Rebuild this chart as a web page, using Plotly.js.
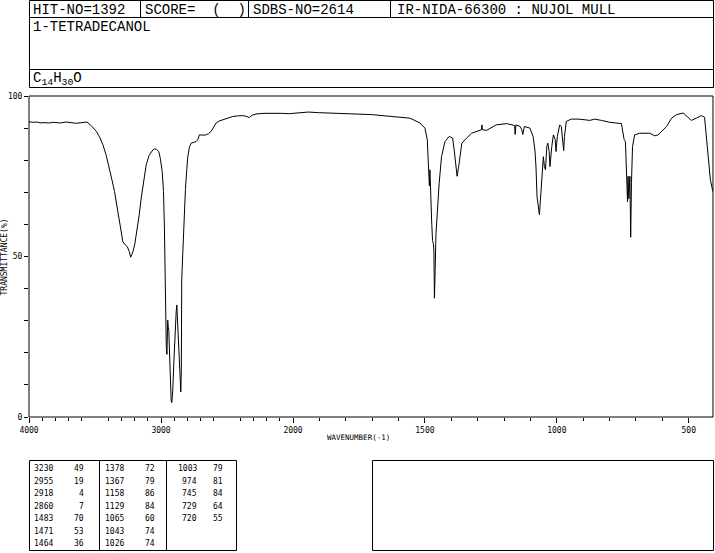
<!DOCTYPE html>
<html>
<head>
<meta charset="utf-8">
<script src="https://cdn.plot.ly/plotly-3.0.1.min.js"></script>
<style>html,body{margin:0;padding:0;background:#fff;}#chart{width:715px;height:553px;}</style>
</head>
<body>
<div id="chart"></div>
<script>
// ---- Spectrum data (wavenumber cm-1, transmittance %) ----
const wavenumber = [
  4000, 3970, 3940, 3910, 3894, 3860, 3843, 3820, 3793, 3760, 3720, 3680, 3641, 3600, 3561,
  3530, 3490, 3465, 3440, 3415, 3390, 3370, 3352, 3335, 3319, 3304, 3289, 3270, 3256, 3240,
  3230, 3222, 3213, 3198, 3183, 3165, 3150, 3130, 3112, 3090, 3074, 3060, 3049, 3035, 3017,
  3005, 2991, 2981, 2974, 2968, 2964, 2960, 2955, 2951, 2949, 2945, 2941, 2937, 2933, 2928,
  2923, 2918, 2911, 2903, 2896, 2890, 2885, 2880, 2876, 2873, 2865, 2858, 2850, 2846, 2845,
  2843, 2835, 2825, 2815, 2805, 2797, 2785, 2772, 2750, 2734, 2720, 2709, 2680, 2658, 2640,
  2620, 2600, 2582, 2560, 2533, 2500, 2457, 2420, 2381, 2350, 2331, 2310, 2280, 2220, 2154,
  2090, 2028, 2000,
  1942, 1900, 1847, 1784, 1700, 1650, 1595, 1557, 1519, 1500, 1491, 1486, 1483, 1481, 1478,
  1474, 1471, 1468, 1466, 1464, 1462, 1458, 1453, 1446, 1437, 1424, 1408, 1395, 1389, 1383,
  1378, 1372, 1367, 1360, 1342, 1323, 1285, 1284, 1282, 1266, 1230, 1190, 1160, 1158, 1155,
  1139, 1133, 1129, 1123, 1102, 1090, 1083, 1079, 1075, 1066, 1062, 1057, 1051, 1047, 1043,
  1038, 1034, 1029, 1026, 1019, 1013, 1006, 1003, 998, 989, 983, 977, 974, 971, 964,
  945, 916, 875, 856, 831, 799, 755, 749, 745, 740, 735, 732, 730, 727, 723,
  720, 717, 713, 705, 686, 648, 629, 616, 584, 565, 546, 521, 502, 490, 471,
  452, 440, 436, 427, 418, 410, 408
];
const transmittance = [
  92.0, 91.8, 91.9, 91.6, 91.7, 91.5, 91.6, 91.8, 91.8, 91.6, 91.9, 91.6, 91.5, 91.7, 91.9,
  90.8, 89.0, 87.2, 84.8, 81.5, 77.5, 73.6, 70.2, 66.0, 61.9, 58.0, 54.6, 53.6, 53.1, 51.5,
  49.8, 50.5, 51.5, 54.0, 57.7, 63.0, 68.2, 74.0, 78.6, 81.5, 82.7, 83.3, 83.5, 83.4, 82.7,
  80.5, 76.5, 70.2, 58.9, 41.0, 28.6, 22.0, 19.5, 26.0, 30.2, 28.0, 27.0, 22.0, 16.1, 6.8,
  5.0, 4.5, 8.3, 16.7, 25.0, 30.0, 32.8, 34.9, 31.0, 29.2, 20.3, 10.4, 7.8, 15.0, 21.8,
  42.7, 51.0, 62.0, 70.8, 77.0, 81.1, 84.0, 85.3, 85.6, 85.8, 86.5, 87.9, 87.8, 87.9, 88.3,
  89.0, 90.4, 91.6, 92.2, 92.6, 93.1, 93.6, 93.8, 93.9, 93.6, 93.3, 94.0, 94.4, 94.6, 94.7,
  94.6, 94.5, 94.6,
  95.0, 94.8, 94.7, 94.4, 94.2, 93.8, 93.4, 93.1, 91.6, 90.0, 86.4, 78.0, 72.0, 77.0, 67.6,
  60.0, 55.0, 54.0, 52.0, 37.0, 42.7, 57.2, 64.5, 72.8, 81.1, 85.8, 87.4, 86.9, 83.2, 78.0,
  75.0, 78.0, 81.1, 85.3, 86.9, 88.4, 89.5, 91.0, 89.5, 89.3, 91.0, 91.4, 90.8, 88.0, 91.0,
  90.5, 89.5, 88.0, 90.5, 90.0, 87.4, 83.2, 78.0, 68.7, 63.0, 67.6, 74.9, 81.1, 78.0, 77.0,
  84.3, 85.3, 82.7, 78.0, 84.3, 87.9, 86.4, 82.7, 87.4, 91.0, 90.5, 84.3, 83.0, 87.4, 92.1,
  92.8, 92.8, 92.4, 92.8, 92.4, 91.8, 91.4, 89.0, 86.5, 85.8, 76.0, 67.0, 75.0, 68.0, 75.0,
  56.0, 73.0, 84.3, 87.9, 88.4, 88.4, 87.6, 87.9, 90.5, 93.1, 94.2, 94.7, 93.1, 92.4, 93.1,
  93.9, 93.4, 89.5, 82.2, 73.9, 70.8, 70.2
];

// ---- Peak table ----
const peakWavenumbers = [3230, 2955, 2918, 2860, 1483, 1471, 1464,
                         1378, 1367, 1158, 1129, 1065, 1043, 1026,
                         1003, 974, 745, 729, 720];
const peakTransmittance = [49, 19, 4, 7, 70, 53, 36,
                           72, 79, 86, 84, 60, 74, 74,
                           79, 81, 84, 64, 55];

// ---- Header texts ----
const hitNo = 'HIT-NO=1392';
const score = 'SCORE=  (  )';
const sdbsNo = 'SDBS-NO=2614';
const irInfo = 'IR-NIDA-66300 : NUJOL MULL';
const compound = '1-TETRADECANOL';
const formula = 'C<sub>14</sub>H<sub>30</sub>O';
const xTitle = 'WAVENUMBER(-1)';
const yTitle = 'TRANSMITTANCE(%)';

// ---- Axis tick labels ----
const yTickVals = [0, 50, 100];
const yTickText = ['0', '50', '100'];
const xHighTickVals = [4000, 3000];
const xHighTickText = ['4000', '3000'];
const xHighLongTicks = [3500, 2500];
const xLowTickVals = [2000, 1500, 1000, 500];
const xLowTickText = ['2000', '1500', '1000', '500'];

// ---- geometry helpers (pixel -> paper) ----
const L = 29, R = 713, T = 96, B = 417;
const px = x => (x - L) / (R - L);
const py = y => (B - y) / (B - T);
const split = (293 - L) / (R - L);

const hiX = [], hiY = [], loX = [], loY = [];
for (let i = 0; i < wavenumber.length; i++) {
  if (wavenumber[i] >= 2000) { hiX.push(wavenumber[i]); hiY.push(transmittance[i]); }
  if (wavenumber[i] <= 2000) { loX.push(wavenumber[i]); loY.push(transmittance[i]); }
}

const lineStyle = {color: '#000', width: 1};
const traces = [
  {x: hiX, y: hiY, xaxis: 'x', yaxis: 'y', type: 'scatter', mode: 'lines', line: lineStyle, hoverinfo: 'skip', showlegend: false},
  {x: loX, y: loY, xaxis: 'x2', yaxis: 'y', type: 'scatter', mode: 'lines', line: lineStyle, hoverinfo: 'skip', showlegend: false}
];

const minorHigh = [], minorLow = [], minorY = [];
for (let v = 3900; v > 2000; v -= 100) if (v % 500 !== 0) minorHigh.push(v);
for (let v = 1900; v >= 408; v -= 100) if (v % 500 !== 0) minorLow.push(v);
for (let v = 10; v < 100; v += 10) if (v !== 50) minorY.push(v);

const tickFont = {family: 'DejaVu Sans Mono', size: 8, color: '#000'};
const axisCommon = {
  showgrid: false, zeroline: false, showline: false,
  ticks: 'outside', ticklen: 5, tickwidth: 1, tickcolor: '#000',
  tickfont: tickFont, tickmode: 'array', fixedrange: true
};
const minorStyle = (vals, len) => ({tickmode: 'array', tickvals: vals, ticks: 'outside', ticklen: len, tickcolor: '#000', tickwidth: 1, showgrid: false});

const shapes = [];
const line = (x0, y0, x1, y1) => shapes.push({type: 'line', xref: 'paper', yref: 'paper',
  x0: px(x0), y0: py(y0), x1: px(x1), y1: py(y1), line: {color: '#000', width: 1}});
const rect = (x0, y0, x1, y1) => shapes.push({type: 'rect', xref: 'paper', yref: 'paper',
  x0: px(x0), y0: py(y0), x1: px(x1), y1: py(y1), line: {color: '#000', width: 1}});

// plot frame
rect(L, T, R, B);
// header box
rect(29.5, 0.5, 713.5, 87.5);
line(29.5, 17.5, 713.5, 17.5);
line(29.5, 69.5, 713.5, 69.5);
line(140.5, 0.5, 140.5, 17.5);
line(248.5, 0.5, 248.5, 17.5);
line(390.5, 0.5, 390.5, 17.5);
// peak table boxes
rect(29.5, 460.5, 236.5, 550.5);
line(99.5, 460.5, 99.5, 550.5);
line(166.5, 460.5, 166.5, 550.5);
rect(372.5, 460.5, 713.5, 550.5);

const headFont = {family: 'Liberation Mono', size: 14, color: '#000'};
const ann = (text, x, y, font, xanchor, extra) => Object.assign({
  text: text, xref: 'paper', yref: 'paper', x: px(x), y: py(y),
  xanchor: xanchor || 'left', yanchor: 'middle', showarrow: false, font: font}, extra || {});

const annotations = [
  ann(hitNo, 31, 9.5, headFont),
  ann(score, 143, 9.5, headFont),
  ann(sdbsNo, 251, 9.5, headFont),
  ann(irInfo, 395, 9.5, headFont),
  ann(compound, 31, 27, headFont),
  ann(formula, 31, 79, headFont),
  ann(xTitle, 358, 437, {family: 'DejaVu Sans Mono', size: 7.5, color: '#000'}, 'center'),
  ann(yTitle, 3.5, 257, {family: 'DejaVu Sans Mono', size: 8, color: '#000'}, 'center', {textangle: -90})
];

const tableFont = {family: 'DejaVu Sans Mono', size: 8, color: '#000'};
const colWnRight = [55, 126, 199];
const colTRight = [86, 157, 225];
for (let i = 0; i < peakWavenumbers.length; i++) {
  const col = Math.floor(i / 7), row = i % 7;
  const y = 468.5 + row * 12.5;
  annotations.push(ann(String(peakWavenumbers[i]), colWnRight[col], y, tableFont, 'right'));
  annotations.push(ann(String(peakTransmittance[i]), colTRight[col], y, tableFont, 'right'));
}

const layout = {
  width: 715, height: 553,
  margin: {l: L, r: 715 - R, t: T, b: 553 - B, pad: 0},
  paper_bgcolor: '#fff', plot_bgcolor: '#fff',
  showlegend: false,
  xaxis: Object.assign({}, axisCommon, {
    domain: [0, split], range: [4000, 2000], anchor: 'y',
    tickvals: xHighTickVals, ticktext: xHighTickText,
    minor: minorStyle(minorHigh, 3)
  }),
  xaxis3: Object.assign({}, axisCommon, {
    domain: [0, split], range: [4000, 2000], anchor: 'y', overlaying: 'x',
    tickvals: xHighLongTicks, showticklabels: false
  }),
  xaxis2: Object.assign({}, axisCommon, {
    domain: [split, 1], range: [2000, 408], anchor: 'y',
    tickvals: xLowTickVals, ticktext: xLowTickText,
    minor: minorStyle(minorLow, 3)
  }),
  yaxis: Object.assign({}, axisCommon, {
    range: [0, 100], anchor: 'x', ticklen: 4,
    tickvals: yTickVals, ticktext: yTickText,
    minor: minorStyle(minorY, 4)
  }),
  shapes: shapes,
  annotations: annotations
};

Plotly.newPlot('chart', traces, layout, {staticPlot: true, displayModeBar: false});
</script>
</body>
</html>
